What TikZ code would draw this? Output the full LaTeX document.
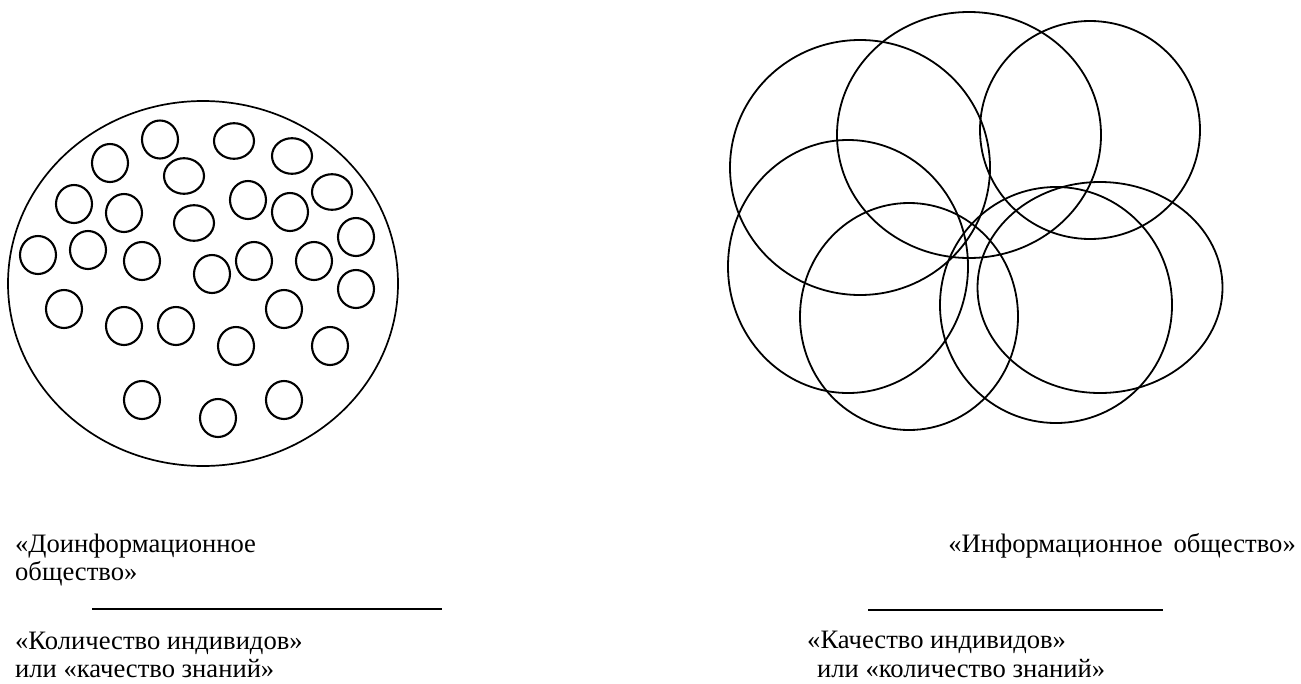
\documentclass[tikz,border=0pt]{standalone}
\usepackage{fontspec}
\setmainfont{Liberation Serif}
\begin{document}
\begin{tikzpicture}[x=1pt,y=-1pt,
  bigline/.style={line width=1.7pt},
  dot/.style={line width=2.1pt},
  ring/.style={line width=1.8pt},
  rule/.style={line width=2pt},
  lbl/.style={anchor=base west,inner sep=0pt,font=\fontsize{26.6}{28}\selectfont}]
\useasboundingbox (0,0) rectangle (1301,683);
% left: pre-information society
\draw[bigline] (203,283.5) ellipse [x radius=195, y radius=182.5];
\foreach \x/\y in {160/139.5,110/163,74/204,124/213,248/200,290/212,356/237,
  38/255,88/250,142/261,212/274,254/261,314/261,356/289,64/309,124/326,
  176/326,284/309,236/346,330/346,142/400,218/418,284/400}
  \draw[dot] (\x,\y) ellipse [x radius=18, y radius=19];
\foreach \x/\y in {234/141,292/156,184/176,194/223,332/192}
  \draw[dot] (\x,\y) ellipse [x radius=20, y radius=17.8];
% right: information society
\draw[ring] (860,167.5) ellipse [x radius=130, y radius=127.5];
\draw[ring] (969,135) ellipse [x radius=132, y radius=123];
\draw[ring] (1090,130) ellipse [x radius=110, y radius=109];
\draw[ring] (848,266.5) ellipse [x radius=120, y radius=126.5];
\draw[ring] (909,316.5) ellipse [x radius=109, y radius=113.5];
\draw[ring] (1056,305) ellipse [x radius=116, y radius=118];
\draw[ring] (1100,287.5) ellipse [x radius=122.5, y radius=105.5];
% texts
\node[lbl] (t1) at (15,552) {«Доинформационное};
\node[lbl] (t2) at (15,580) {общество»};
\coordinate (l1a) at (92,609);
\coordinate (l1b) at (442,609);
\draw[rule] (l1a) -- (l1b);
\node[lbl] (t3) at (15,649) {«Количество индивидов»};
\node[lbl] (t4) at (15,677) {или «качество знаний»};
\node[lbl,anchor=base east] (t5) at (1296,552) {«Информационное\hspace{11pt}общество»};
\coordinate (l2a) at (868,610);
\coordinate (l2b) at (1163,610);
\draw[rule] (l2a) -- (l2b);
\node[lbl] (t6) at (807,648) {«Качество индивидов»};
\node[lbl] (t7) at (817,677) {или «количество знаний»};
\end{tikzpicture}
\end{document}
